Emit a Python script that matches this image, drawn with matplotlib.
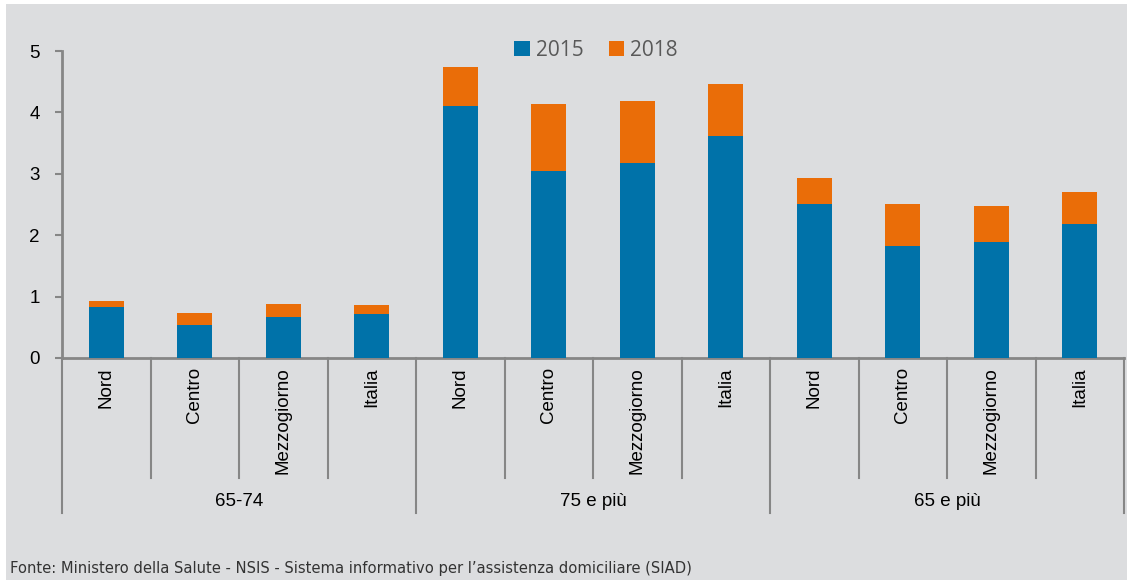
import matplotlib
matplotlib.use('Agg')
import matplotlib.pyplot as plt
import matplotlib.transforms as mtransforms
from matplotlib.patches import Rectangle, Patch

# ============================================================
# Data
# ============================================================
groups = ['65-74', '75 e più', '65 e più']
areas = ['Nord', 'Centro', 'Mezzogiorno', 'Italia']
val_2015 = [0.83, 0.53, 0.66, 0.71,
            4.10, 3.05, 3.17, 3.61,
            2.51, 1.83, 1.89, 2.18]
val_2018 = [0.93, 0.73, 0.88, 0.87,
            4.74, 4.14, 4.18, 4.46,
            2.93, 2.51, 2.48, 2.70]
y_ticks = [0, 1, 2, 3, 4, 5]
source = 'Fonte: Ministero della Salute - NSIS - Sistema informativo per l\u2019assistenza domiciliare (SIAD)'

# ============================================================
# Style
# ============================================================
BG = '#dcdddf'
BLUE = '#0072a9'
ORANGE = '#ea6d08'
AXC = '#868686'
W, H = 1127, 580

plt.rcParams['font.family'] = ['Liberation Sans', 'DejaVu Sans']

fig = plt.figure(figsize=(W / 100, H / 100), dpi=100, facecolor='white')
fig.patches.append(Rectangle((6 / W, 0), 1 - 6 / W, 1 - 4 / H, transform=fig.transFigure,
                             facecolor=BG, edgecolor='none', zorder=-10))

ax = fig.add_axes([62 / W, 1 - 358 / H, (1124 - 62) / W, (358 - 51) / H])
ax.set_zorder(2)
ax.set_facecolor('none')

n = len(val_2015)
x = list(range(n))
# 2018 drawn behind, 2015 in front
ax.bar(x, val_2018, width=0.4, color=ORANGE, zorder=2)
ax.bar(x, val_2015, width=0.4, color=BLUE, zorder=3)

ax.set_xlim(-0.5, n - 0.5)
ax.set_ylim(0, 5)
ax.set_yticks(y_ticks)
ax.set_xticks([])
ax.tick_params(axis='y', length=5, width=1.5, color=AXC, labelsize=13.5, pad=11)
for s in ['top', 'right']:
    ax.spines[s].set_visible(False)
for s in ['left', 'bottom']:
    ax.spines[s].set_color(AXC)
    ax.spines[s].set_linewidth(2)

# ============================================================
# Two-level category axis
# ============================================================
trans = mtransforms.blended_transform_factory(ax.transData, fig.transFigure)
y_axis = 1 - 358 / H
y_short = 1 - 478 / H
y_long = 1 - 513 / H
for b in range(n + 1):
    xb = b - 0.5
    y_end = y_long if b % len(areas) == 0 else y_short
    ax.plot([xb, xb], [y_axis, y_end], color=AXC, lw=1.5, transform=trans,
            clip_on=False, zorder=1)

for i in range(n):
    ax.text(i, 1 - 367 / H, areas[i % len(areas)], rotation=90, ha='center', va='top',
            fontsize=13.5, color='black', transform=trans)

for g, name in enumerate(groups):
    xc = g * len(areas) + (len(areas) - 1) / 2
    ax.text(xc, 1 - 501 / H, name, ha='center', va='center', fontsize=13.5,
            color='black', transform=trans)

# ============================================================
# Legend
# ============================================================
handles = [Patch(facecolor=BLUE, edgecolor='none', label='2015'),
           Patch(facecolor=ORANGE, edgecolor='none', label='2018')]
leg = fig.legend(handles=handles, loc='center', bbox_to_anchor=(596 / W, 1 - 50 / H),
                 ncol=2, frameon=False, handlelength=0.75, handleheight=0.75,
                 handletextpad=0.3, columnspacing=1.2,
                 prop={'family': ['Open Sans', 'DejaVu Sans'], 'size': 15})
for t in leg.get_texts():
    t.set_color('#595959')

# ============================================================
# Source note
# ============================================================
fig.text(10 / W, 1 - 568 / H, source, ha='left', va='center', fontsize=11.8,
         color='#333333', family='DejaVu Sans', fontstretch='condensed')

fig.savefig('out.png', dpi=100, facecolor=fig.get_facecolor())
